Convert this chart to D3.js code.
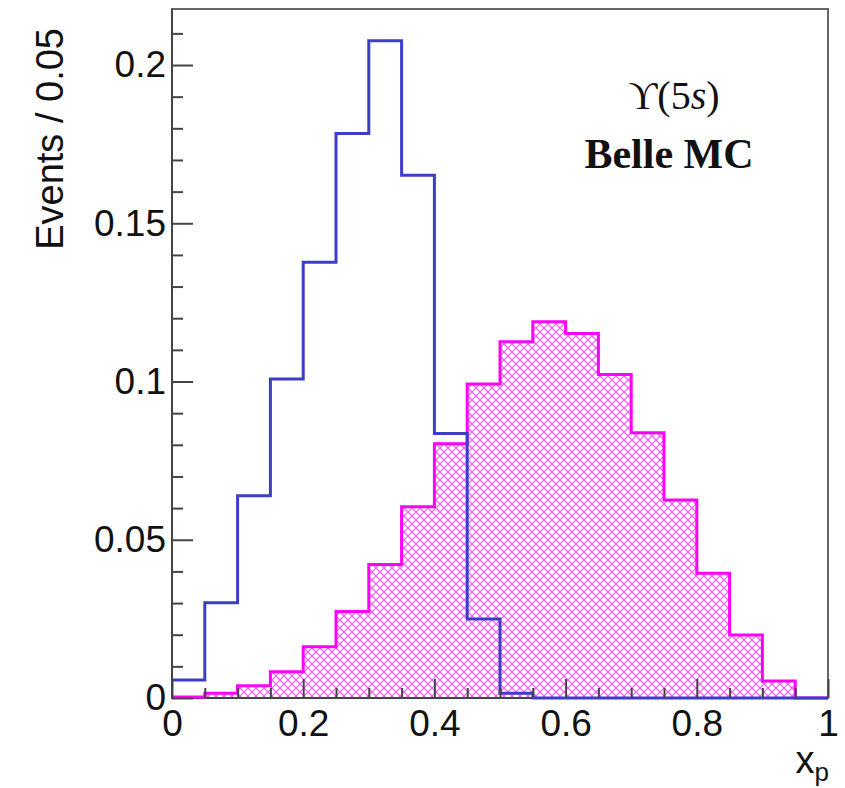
<!DOCTYPE html>
<html>
<head>
<meta charset="utf-8">
<script src="https://cdn.jsdelivr.net/npm/d3@7"></script>
<style>
  body { margin: 0; background: #fff; }
  svg { display: block; }
</style>
</head>
<body>
<svg id="chart" width="845" height="788"></svg>
<script>
// bin edges of x_p, 20 bins of 0.05
var binEdges = [0, 0.05, 0.1, 0.15, 0.2, 0.25, 0.3, 0.35, 0.4, 0.45, 0.5,
	0.55, 0.6, 0.65, 0.7, 0.75, 0.8, 0.85, 0.9, 0.95, 1];

// blue (open) histogram
var blueValues = [0.0057, 0.0301, 0.0639, 0.1008, 0.1377, 0.1784, 0.2077, 0.1652, 0.0836, 0.0250,
	0.0015, 0, 0, 0, 0, 0, 0, 0, 0, 0];

// magenta (hatched) histogram
var magentaValues = [0.0003, 0.0015, 0.0039, 0.0083, 0.0162, 0.0273, 0.0422, 0.0604, 0.0803, 0.0992,
	0.1126, 0.1189, 0.1152, 0.1022, 0.0838, 0.0626, 0.0394, 0.0199, 0.0054, 0];

var xTickLabels = [0, 0.2, 0.4, 0.6, 0.8, 1];
var xMinorTicks = [0.05, 0.1, 0.15, 0.25, 0.3, 0.35, 0.45, 0.5, 0.55, 0.65, 0.7, 0.75, 0.85, 0.9, 0.95];
var yTickLabels = [0, 0.05, 0.1, 0.15, 0.2];
var yMinorTicks = [0.01, 0.02, 0.03, 0.04, 0.06, 0.07, 0.08, 0.09, 0.11, 0.12, 0.13, 0.14,
	0.16, 0.17, 0.18, 0.19, 0.21];

// frame box (window.top is taken, hence the prefix)
var frameLeft = 172, frameRight = 828, frameTop = 9, frameBottom = 698;

var svg = d3.select('#chart');

var x = d3.scaleLinear().domain([0, 1]).range([frameLeft, frameRight]);
var y = d3.scaleLinear().domain([0, 0.2177]).range([frameBottom, frameTop]);

// cross hatch for the filled histogram
var pat = svg.append('defs').append('pattern')
	.attr('id', 'hatch')
	.attr('patternUnits', 'userSpaceOnUse')
	.attr('width', 8).attr('height', 8);
pat.append('path')
	.attr('d', 'M0,0L8,8M0,8L8,0')
	.attr('stroke', '#ff00ff')
	.attr('stroke-opacity', 0.7)
	.attr('stroke-width', 1.1)
	.attr('fill', 'none');

// frame
svg.append('rect')
	.attr('x', frameLeft).attr('y', frameTop)
	.attr('width', frameRight - frameLeft).attr('height', frameBottom - frameTop)
	.attr('fill', 'none')
	.attr('stroke', '#666')
	.attr('stroke-width', 2);

function stepPoints(values) {
	var pts = values.map(function(v, i) { return [binEdges[i], v]; });
	pts.push([binEdges[binEdges.length - 1], values[values.length - 1]]);
	return pts;
}

var area = d3.area()
	.curve(d3.curveStepAfter)
	.x(function(d) { return x(d[0]); })
	.y0(y(0))
	.y1(function(d) { return y(d[1]); });

var line = d3.line()
	.curve(d3.curveStepAfter)
	.x(function(d) { return x(d[0]); })
	.y(function(d) { return y(d[1]); });

svg.append('path')
	.datum(stepPoints(magentaValues))
	.attr('d', area)
	.attr('fill', 'url(#hatch)');

// left and bottom axis lines
svg.append('path')
	.attr('d', 'M' + frameLeft + ',' + frameTop + 'V' + frameBottom + 'H' + frameRight)
	.attr('fill', 'none')
	.attr('stroke', '#444')
	.attr('stroke-width', 2);

svg.append('path')
	.datum(stepPoints(magentaValues))
	.attr('d', line)
	.attr('fill', 'none')
	.attr('stroke', '#ff00ff')
	.attr('stroke-width', 3);

svg.append('path')
	.datum(stepPoints(blueValues))
	.attr('d', line)
	.attr('fill', 'none')
	.attr('stroke', '#3d3dc6')
	.attr('stroke-width', 3);

// axes (ticks point into the frame)
function styleAxis(g) {
	g.select('.domain').remove();
	g.selectAll('line').attr('stroke', '#444').attr('stroke-width', 2);
	g.selectAll('text')
		.attr('fill', '#111')
		.style('font-family', 'Liberation Sans, Arial, sans-serif')
		.style('font-size', '37px');
}

svg.append('g')
	.attr('transform', 'translate(' + frameLeft + ',0)')
	.call(d3.axisLeft(y).tickValues(yMinorTicks).tickSize(-11).tickFormat(''))
	.call(styleAxis);

svg.append('g')
	.attr('transform', 'translate(' + frameLeft + ',0)')
	.call(d3.axisLeft(y).tickValues(yTickLabels).tickSize(-21).tickPadding(6)
		.tickFormat(function(d) { return String(d); }))
	.call(styleAxis);

svg.append('g')
	.attr('transform', 'translate(0,' + frameBottom + ')')
	.call(d3.axisBottom(x).tickValues(xMinorTicks).tickSize(-10).tickFormat(''))
	.call(styleAxis);

svg.append('g')
	.attr('transform', 'translate(0,' + frameBottom + ')')
	.call(d3.axisBottom(x).tickValues(xTickLabels).tickSize(-19).tickPadding(12)
		.tickFormat(function(d) { return String(d); }))
	.call(styleAxis);

// axis titles
svg.append('text')
	.attr('transform', 'translate(63,28) rotate(-90)')
	.attr('text-anchor', 'end')
	.style('font-family', 'Liberation Sans, Arial, sans-serif')
	.style('font-size', '38px')
	.attr('fill', '#111')
	.text('Events / 0.05');

var xt = svg.append('text')
	.attr('x', frameRight + 1).attr('y', 773)
	.attr('text-anchor', 'end')
	.style('font-family', 'Liberation Sans, Arial, sans-serif')
	.style('font-size', '38px')
	.attr('fill', '#111');
xt.append('tspan').text('x');
xt.append('tspan').attr('dy', 8).style('font-size', '26px').text('p');

// labels in the corner
var ups = svg.append('text')
	.attr('x', 674).attr('y', 109)
	.attr('text-anchor', 'middle')
	.style('font-family', 'Liberation Serif, Times New Roman, serif')
	.style('font-size', '40px')
	.attr('fill', '#111');
ups.append('tspan').text('\u03d2(5');
ups.append('tspan').style('font-style', 'italic').text('s');
ups.append('tspan').text(')');

svg.append('text')
	.attr('x', 669).attr('y', 168)
	.attr('text-anchor', 'middle')
	.style('font-family', 'Liberation Serif, Times New Roman, serif')
	.style('font-size', '42px')
	.style('font-weight', 'bold')
	.attr('fill', '#111')
	.text('Belle MC');
</script>
</body>
</html>
